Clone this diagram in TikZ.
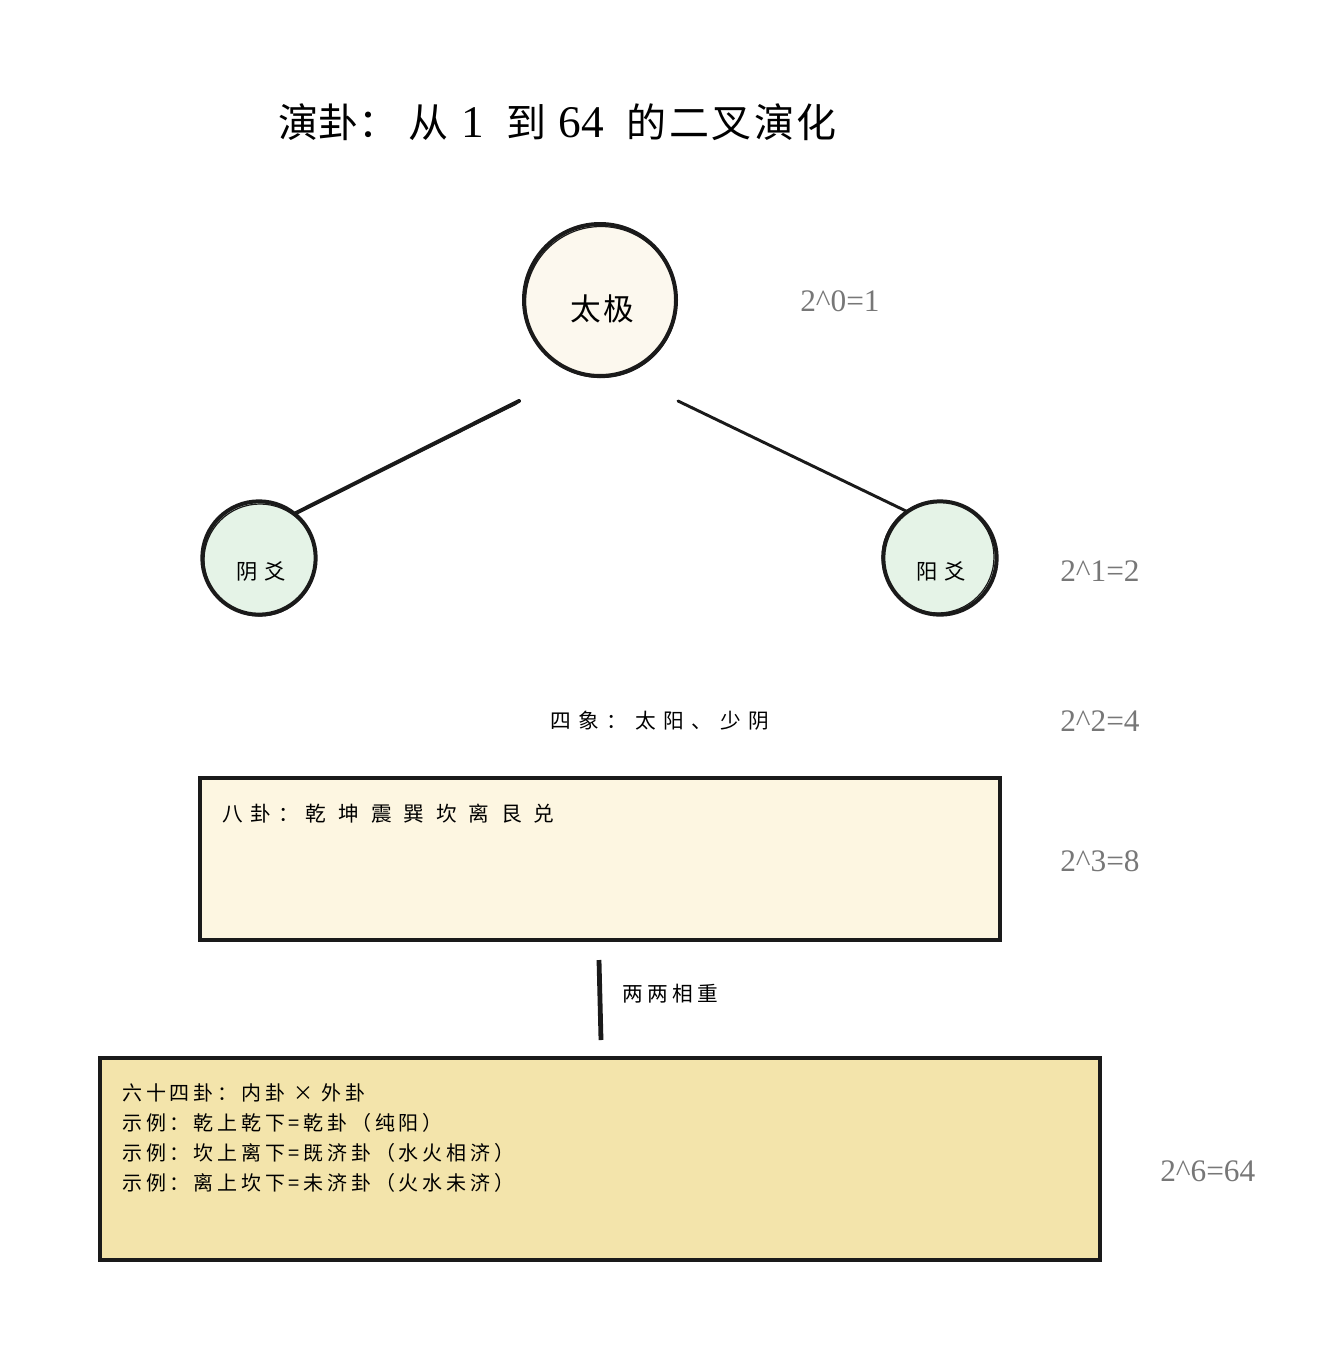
\documentclass[tikz,border=0pt]{standalone}
\usepackage{fontspec}
\newfontfamily\cjk{Noto Sans CJK SC}
\newfontfamily\lser{Liberation Serif}
\newcommand{\ls}[1]{\addfontfeature{LetterSpace=#1}}
\definecolor{cream}{HTML}{FCF8EE}
\definecolor{paleg}{HTML}{E5F3E7}
\definecolor{boxa}{HTML}{FDF6E1}
\definecolor{boxb}{HTML}{F3E4AB}
\definecolor{lbl}{HTML}{777777}
\definecolor{ink}{HTML}{1A1A1A}
\begin{document}
\begin{tikzpicture}[x=0.75pt,y=-0.75pt,
  ring/.style={circle,draw=ink,line width=3pt,inner sep=0pt},
  rough/.style={draw=ink,line width=0.9pt},
  power/.style={text=lbl,font=\lser\fontsize{23.5}{26}\selectfont,anchor=west,inner sep=0pt},
  link/.style={draw=ink,line width=2.6pt,line cap=round},
  panel/.style={draw=ink,line width=2.6pt},
  txt/.style={anchor=west,inner sep=0pt}]
\useasboundingbox (0,0) rectangle (1330,1360);
% title
\node[txt] (title) at (278,122)
  {\fontsize{30}{34}\selectfont\cjk 演卦：\hspace{8pt}从\hspace{9.5pt}{\lser\fontsize{34}{34}\selectfont 1}\hspace{17pt}到\hspace{9pt}{\lser\fontsize{34}{34}\selectfont 64}\hspace{17pt}{\ls{6}的二叉演化}};
% circles
\node[ring,fill=cream,minimum size=114pt] (tj) at (600,300) {};
\draw[rough] (601,302) circle (75.5);
\node[txt,anchor=center] (tjt) at (602,309) {\fontsize{23}{26}\selectfont\cjk\ls{8}太极};
\node[ring,fill=paleg,minimum size=85pt] (yin) at (259,558) {};
\draw[rough] (260,560) circle (56);
\node[txt,anchor=center] (yint) at (261,571) {\fontsize{16}{18}\selectfont\cjk\ls{30}阴爻};
\node[ring,fill=paleg,minimum size=85pt] (yang) at (940,558) {};
\draw[rough] (938,557) circle (56);
\node[txt,anchor=center] (yangt) at (941,571) {\fontsize{16}{18}\selectfont\cjk\ls{30}阳爻};
\coordinate (la) at (519,401);
\coordinate (lb) at (296,513);
\coordinate (ra) at (678,401);
\coordinate (rb) at (906,511);
\draw[link,line width=3pt] (la) -- (lb);
\draw[link,line width=1.2pt] (516,404) -- (lb);
\draw[link,line width=2.2pt] (ra) -- (rb);
% powers
\node[power] (p0) at (800,301) {2\string^0=1};
\node[power] (p1) at (1060,571) {2\string^1=2};
\node[power] (p2) at (1060,721) {2\string^2=4};
\node[power] (p3) at (1060,861) {2\string^3=8};
\node[power] (p6) at (1160,1171) {2\string^6=64};
% four images
\node[txt] (sx) at (550,721) {\fontsize{15.5}{18}\selectfont\cjk\ls{37}四象：太阳、少阴};
% eight trigram box
\path[panel,fill=boxa] (200,778) rectangle (1000,940);
\node[txt] (bg) at (222,814) {\fontsize{15.5}{18}\selectfont\cjk\ls{35}八卦：乾 坤 震 巽 坎 离 艮 兑};
% connector
\coordinate (va) at (599,960);
\coordinate (vb) at (601,1040);
\draw[link,line width=3.6pt,line cap=butt] (va) -- (vb);
\node[txt] (lz) at (622,994) {\fontsize{15.5}{18}\selectfont\cjk\ls{22}两两相重};
% sixty-four box
\path[panel,fill=boxb] (100,1058) rectangle (1100,1260);
\node[txt,anchor=north west,align=left,font=\fontsize{15}{22.5}\selectfont\cjk\ls{19}] (sf) at (122,1083)
  {六十四卦：内卦 × 外卦\\
   示例：乾上乾下=乾卦（纯阳）\\
   示例：坎上离下=既济卦（水火相济）\\
   示例：离上坎下=未济卦（火水未济）};
\end{tikzpicture}
\end{document}
